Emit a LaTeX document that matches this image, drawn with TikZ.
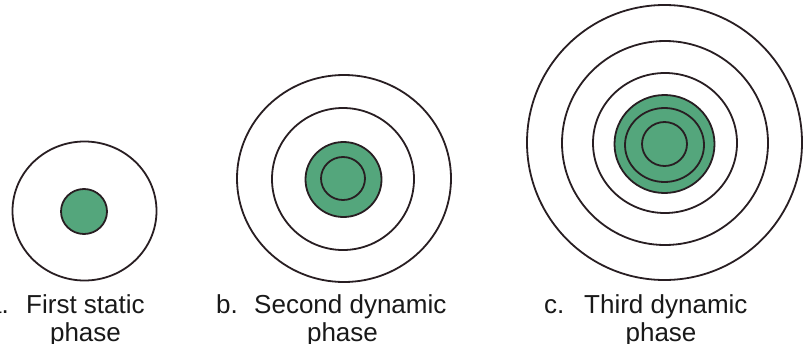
\documentclass[tikz,border=0pt]{standalone}
\usepackage{fontspec}
\setmainfont{Liberation Sans}
\definecolor{core}{RGB}{84,166,124}
\definecolor{ring}{RGB}{40,30,34}
\begin{document}
\begin{tikzpicture}[x=1pt,y=-1pt,
  ringline/.style={draw=ring,line width=1.8pt},
  corefill/.style={draw=ring,line width=1.8pt,fill=core},
  lbl/.style={inner sep=0pt,font=\fontsize{26}{28}\selectfont,text=black!90}]
\useasboundingbox (0,0) rectangle (805,343);
\fill[white] (0,0) rectangle (805,343);
% panel a
\draw[ringline] (84.5,211) ellipse [x radius=72,y radius=69.5];
\draw[corefill] (84,211.5) ellipse [x radius=23,y radius=22.5];
% panel b
\draw[ringline] (344,178.5) ellipse [x radius=107,y radius=103.5];
\draw[ringline] (343,179) ellipse [x radius=71,y radius=71];
\draw[corefill] (343.5,179.5) ellipse [x radius=38,y radius=37.5];
\draw[ringline] (343,178.5) ellipse [x radius=22,y radius=21.5];
% panel c
\draw[ringline] (664.5,142.5) ellipse [x radius=137.5,y radius=137.5];
\draw[ringline] (665,143) ellipse [x radius=103,y radius=102];
\draw[ringline] (665,143) ellipse [x radius=72,y radius=70];
\draw[corefill] (664.5,144) ellipse [x radius=50,y radius=49];
\draw[ringline] (664.5,145) ellipse [x radius=39.5,y radius=37];
\draw[ringline] (664.5,144) ellipse [x radius=22.5,y radius=22];
% labels
\node[lbl,anchor=base east] (la) at (9,313) {a.};
\node[lbl,anchor=base west] (ta) at (26,313) {First static};
\node[lbl,anchor=base] (pa) at (85.5,341) {phase};
\node[lbl,anchor=base west] (lb) at (216,313) {b.};
\node[lbl,anchor=base west] (tb) at (254,313) {Second dynamic};
\node[lbl,anchor=base] (pb) at (342.5,341) {phase};
\node[lbl,anchor=base west] (lc) at (544,313) {c.};
\node[lbl,anchor=base west] (tc) at (584,313) {Third dynamic};
\node[lbl,anchor=base] (pc) at (661,341) {phase};
\end{tikzpicture}
\end{document}
